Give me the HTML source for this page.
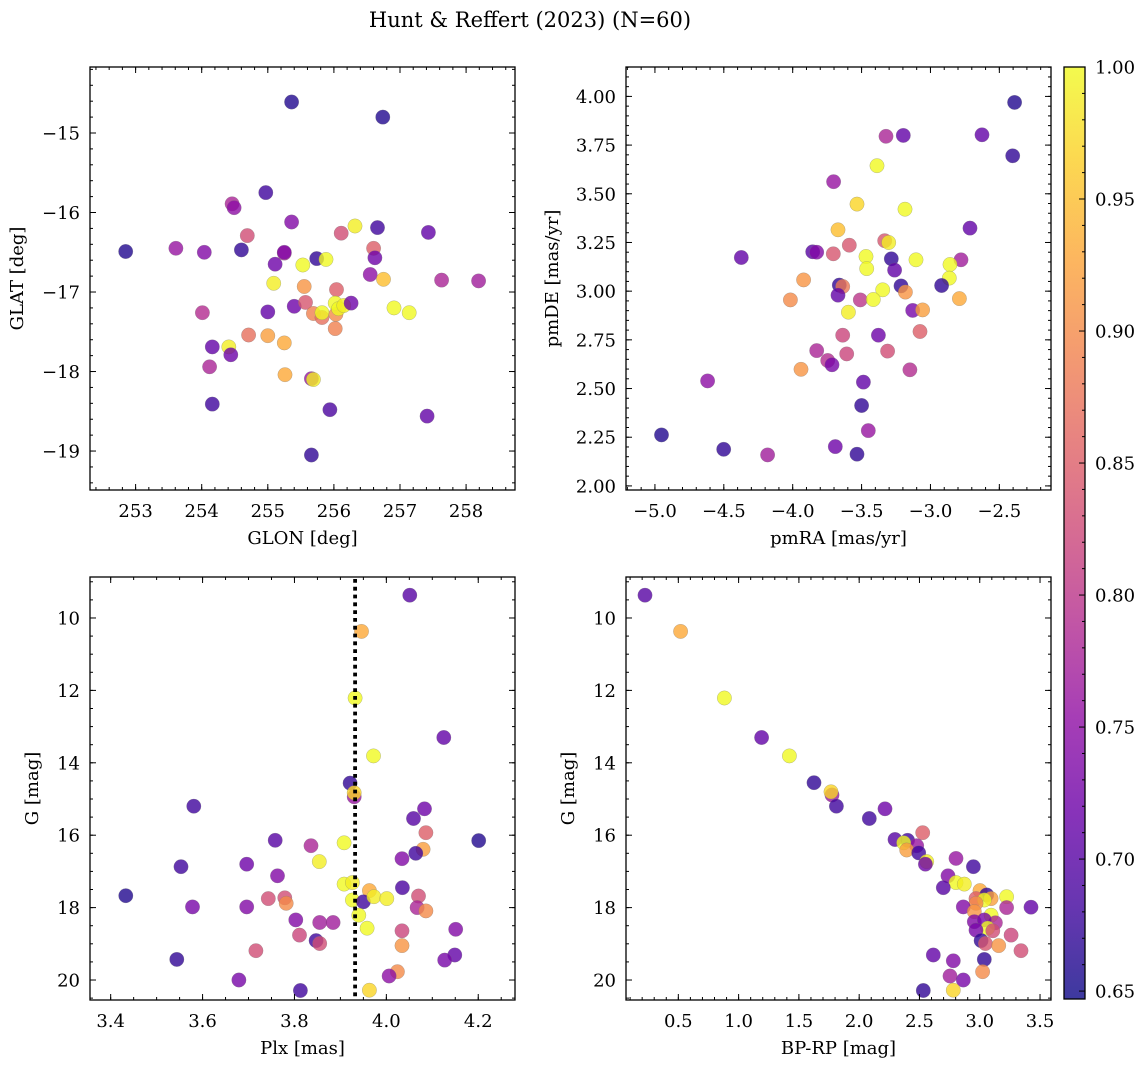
<!DOCTYPE html>
<html><head><meta charset="utf-8"><style>
html,body{margin:0;padding:0;background:#fff;}
svg{display:block;font-family:"DejaVu Serif","Liberation Serif",serif;}
</style></head><body>
<svg id="fig" width="1148" height="1067" viewBox="0 0 1148 1067">
<text x="530" y="27" text-anchor="middle" font-size="21">Hunt &amp; Reffert (2023) (N=60)</text>
</svg>
<script>
// ---- Panel 1 data: GLON / GLAT ----
const glon = [252.85,255.36,256.74,253.61,254.04,254.46,254.49,254.60,254.97,254.69,255.36,255.25,255.25,255.11,255.74,255.53,255.88,256.32,256.66,256.11,256.60,256.62,257.43,256.55,256.75,257.63,258.19,255.09,255.55,256.04,255.40,255.57,255.00,254.01,255.69,255.82,255.82,256.03,256.02,256.07,256.15,256.26,256.02,256.91,257.14,254.71,255.00,255.25,254.16,254.41,254.44,254.12,255.26,255.66,255.69,254.16,255.94,257.41,255.66];
const glat = [-16.49,-14.61,-14.80,-16.45,-16.50,-15.89,-15.94,-16.47,-15.75,-16.29,-16.12,-16.51,-16.50,-16.65,-16.58,-16.66,-16.59,-16.17,-16.19,-16.26,-16.45,-16.57,-16.25,-16.78,-16.84,-16.85,-16.86,-16.89,-16.93,-16.97,-17.18,-17.13,-17.25,-17.26,-17.27,-17.32,-17.26,-17.28,-17.14,-17.21,-17.17,-17.14,-17.46,-17.20,-17.26,-17.54,-17.55,-17.64,-17.69,-17.69,-17.79,-17.94,-18.04,-18.09,-18.10,-18.41,-18.48,-18.56,-19.05];
const prob1 = [0.66,0.66,0.66,0.76,0.74,0.78,0.75,0.67,0.68,0.83,0.74,0.78,0.74,0.72,0.67,1.00,1.00,0.99,0.68,0.83,0.85,0.72,0.71,0.75,0.95,0.78,0.77,0.99,0.91,0.85,0.72,0.84,0.71,0.79,0.89,0.87,1.00,0.90,1.00,1.00,0.99,0.72,0.89,1.00,1.00,0.87,0.92,0.93,0.71,0.99,0.72,0.78,0.93,0.76,0.99,0.68,0.69,0.71,0.67];
// ---- Panel 2 data: pmRA / pmDE ----
const pmra = [-2.389,-3.197,-3.323,-2.626,-2.403,-3.388,-3.703,-3.533,-3.185,-2.713,-3.671,-3.332,-3.303,-3.589,-3.855,-3.826,-3.705,-4.373,-3.468,-3.284,-3.105,-2.778,-3.463,-3.260,-2.858,-2.863,-3.921,-3.662,-3.637,-3.214,-3.182,-2.919,-3.347,-3.671,-4.017,-3.509,-3.415,-2.790,-3.596,-3.129,-3.057,-3.637,-3.378,-3.076,-3.826,-3.608,-3.311,-3.746,-3.715,-3.940,-3.149,-4.618,-3.487,-3.500,-4.952,-3.451,-4.501,-3.691,-4.182,-3.533];
const pmde = [3.969,3.800,3.795,3.803,3.695,3.644,3.562,3.447,3.421,3.324,3.315,3.259,3.250,3.236,3.202,3.200,3.192,3.173,3.178,3.166,3.161,3.161,3.116,3.108,3.137,3.067,3.058,3.031,3.024,3.027,2.995,3.029,3.007,2.979,2.955,2.955,2.957,2.962,2.892,2.901,2.904,2.774,2.774,2.793,2.695,2.678,2.692,2.644,2.622,2.599,2.596,2.539,2.533,2.413,2.262,2.284,2.188,2.202,2.159,2.163];
const prob2 = [0.66,0.71,0.78,0.71,0.67,1.00,0.76,0.97,1.00,0.71,0.95,0.84,0.99,0.84,0.70,0.74,0.84,0.71,1.00,0.67,1.00,0.77,1.00,0.71,1.00,1.00,0.91,0.67,0.88,0.67,0.91,0.67,1.00,0.71,0.90,0.80,1.00,0.93,0.99,0.73,0.92,0.82,0.72,0.85,0.78,0.82,0.83,0.79,0.73,0.91,0.79,0.75,0.71,0.67,0.66,0.76,0.67,0.72,0.77,0.67];
// ---- Panel 3 data: Plx / G ----
const plx = [4.051,3.946,3.932,4.125,3.972,3.921,3.930,3.930,3.581,4.083,4.059,4.086,3.758,4.201,3.836,3.908,4.080,4.064,4.034,3.854,3.553,3.696,3.763,3.908,3.926,4.035,3.963,3.433,3.743,3.779,3.782,3.926,3.950,3.973,4.001,4.070,3.578,3.696,4.067,4.086,3.940,3.803,3.855,3.884,3.958,4.151,4.034,3.811,3.847,3.855,4.034,3.716,4.149,4.127,3.544,4.024,4.006,3.679,3.963,3.813];
const gmag3 = [9.37,10.37,12.21,13.30,13.81,14.56,14.94,14.83,15.20,15.27,15.54,15.93,16.14,16.15,16.29,16.21,16.39,16.50,16.65,16.73,16.87,16.80,17.12,17.35,17.31,17.45,17.53,17.67,17.75,17.73,17.88,17.79,17.84,17.70,17.75,17.68,17.98,17.98,18.00,18.09,18.21,18.34,18.41,18.41,18.57,18.60,18.64,18.76,18.91,18.99,19.05,19.19,19.31,19.45,19.43,19.77,19.89,20.00,20.28,20.29];
const prob3 = [0.70,0.93,1.00,0.71,1.00,0.67,0.76,0.97,0.68,0.72,0.70,0.85,0.70,0.66,0.78,1.00,0.92,0.68,0.74,0.99,0.68,0.72,0.74,1.00,0.99,0.69,0.93,0.66,0.83,0.83,0.90,1.00,0.68,0.99,0.99,0.83,0.73,0.74,0.78,0.90,1.00,0.74,0.77,0.77,1.00,0.74,0.82,0.82,0.68,0.83,0.91,0.83,0.71,0.73,0.67,0.90,0.75,0.73,0.97,0.68];
const plxLine = 3.932;
// ---- Panel 4 data: BP-RP / G ----
const bprp = [0.224,0.519,0.882,1.191,1.421,1.625,1.775,1.766,1.811,2.214,2.084,2.527,2.297,2.402,2.477,2.369,2.394,2.494,2.803,2.560,2.549,2.947,2.737,2.803,2.872,2.698,3.002,3.058,2.969,3.094,3.038,3.223,2.969,2.864,3.223,3.425,2.955,3.094,2.955,3.130,3.038,3.066,2.969,3.108,3.260,3.011,3.047,3.157,3.342,2.615,2.781,3.038,3.024,2.753,2.864,2.781,2.532];
const gmag4 = [9.37,10.37,12.21,13.30,13.81,14.55,14.89,14.80,15.20,15.27,15.54,15.93,16.12,16.14,16.29,16.21,16.41,16.49,16.64,16.73,16.80,16.87,17.12,17.31,17.35,17.45,17.53,17.65,17.75,17.75,17.79,17.70,17.88,17.98,18.00,17.99,18.11,18.21,18.39,18.42,18.34,18.57,18.62,18.64,18.76,18.91,18.99,19.05,19.19,19.31,19.47,19.43,19.77,19.89,20.00,20.28,20.29];
const prob4 = [0.70,0.93,1.00,0.71,1.00,0.67,0.76,0.97,0.68,0.72,0.68,0.85,0.70,0.68,0.76,1.00,0.92,0.68,0.76,0.99,0.72,0.68,0.74,1.00,0.99,0.70,0.93,0.67,0.85,0.92,1.00,1.00,0.90,0.74,0.78,0.71,0.91,1.00,0.74,0.78,0.73,1.00,0.73,0.83,0.82,0.67,0.84,0.91,0.83,0.71,0.74,0.67,0.90,0.77,0.73,0.97,0.67];
// ---- colorbar ----
const cbTicks = [0.65,0.70,0.75,0.80,0.85,0.90,0.95,1.00];
const cbMin = 0.647, cbMax = 1.0;

const NS = "http://www.w3.org/2000/svg";
const svg = document.getElementById('fig');
function mk(tag, attrs, parent){ const e=document.createElementNS(NS,tag); for(const k in attrs) e.setAttribute(k,attrs[k]); (parent||svg).appendChild(e); return e; }

const stops=[[13,8,135],[65,4,157],[106,0,168],[143,13,164],[177,42,144],[204,71,120],[225,100,98],[242,132,75],[252,166,54],[252,206,37],[240,249,33]];
function plasma(t){ t=Math.max(0,Math.min(1,t)); const f=t*10, i=Math.min(9,Math.floor(f)), u=f-i; const a=stops[i],b=stops[i+1]; return 'rgb('+a.map((v,k)=>Math.round(v+(b[k]-v)*u)).join(',')+')'; }
function cmap(v){ return plasma((v-cbMin)/(cbMax-cbMin)); }

function fmt(v,d){ let s=v.toFixed(d); if(v<0) s='\u2212'+s.slice(1); return s; }

function panel(cfg){
  const g=mk('g',{});  
  const {x0,x1,y0,y1}=cfg;
  const sx=v=>x0+(v-cfg.xd[0])/(cfg.xd[1]-cfg.xd[0])*(x1-x0);
  const sy=cfg.inv ? (v=>y0+(v-cfg.yd[0])/(cfg.yd[1]-cfg.yd[0])*(y1-y0)) : (v=>y1-(v-cfg.yd[0])/(cfg.yd[1]-cfg.yd[0])*(y1-y0));
  const pg=mk('g',{},g);  
  for(let i=0;i<cfg.xs.length;i++){
    const c=mk('circle',{cx:sx(cfg.xs[i]).toFixed(1),cy:sy(cfg.ys[i]).toFixed(1),r:7.2,fill:cmap(cfg.cs[i]),'fill-opacity':0.8,stroke:'#777','stroke-opacity':0.5,'stroke-width':0.5},pg);
    
    
  }
  if(cfg.vline!==undefined){
    const l=mk('line',{x1:sx(cfg.vline),x2:sx(cfg.vline),y1:y0+2,y2:y1,stroke:'#000','stroke-width':3.8,'stroke-dasharray':'3.8,4'},g);
    
    
  }
  const tg=mk('g',{stroke:'#000','stroke-width':1},g);
  function ticks(step,len,isX,labelDec){
    const d=isX?cfg.xd:cfg.yd; const lo=Math.min(d[0],d[1]), hi=Math.max(d[0],d[1]);
    for(let k=Math.ceil(lo/step-1e-6);k*step<=hi+1e-9;k++){
      const v=k*step;
      if(isX){ const p=sx(v); mk('line',{x1:p,x2:p,y1:y1,y2:y1-len},tg); mk('line',{x1:p,x2:p,y1:y0,y2:y0+len},tg);
        if(labelDec!==undefined){ const t=mk('text',{x:p,y:y1+27,'text-anchor':'middle','font-size':18,stroke:'none'},g); t.textContent=fmt(v,labelDec);   } }
      else { const p=sy(v); mk('line',{y1:p,y2:p,x1:x0,x2:x0+len},tg); mk('line',{y1:p,y2:p,x1:x1,x2:x1-len},tg);
        if(labelDec!==undefined){ const t=mk('text',{x:x0-10,y:p+6.5,'text-anchor':'end','font-size':18,stroke:'none'},g); t.textContent=fmt(v,labelDec);   } }
    }
  }
  ticks(cfg.xmaj,6,true,cfg.xdec); ticks(cfg.xmin,3,true);
  ticks(cfg.ymaj,6,false,cfg.ydec); ticks(cfg.ymin,3,false);
  mk('rect',{x:x0,y:y0,width:x1-x0,height:y1-y0,fill:'none',stroke:'#000','stroke-width':1.3},g);
  const xl=mk('text',{x:(x0+x1)/2,y:y1+54,'text-anchor':'middle','font-size':18},g); xl.textContent=cfg.xlab;
   
  const yc=(y0+y1)/2;
  const yl=mk('text',{x:cfg.ylx,y:yc,'text-anchor':'middle','font-size':18,transform:'rotate(-90 '+cfg.ylx+' '+yc+')'},g); yl.textContent=cfg.ylab;
   
}

panel({name:'glon-glat-panel',x0:90,x1:515,y0:67,y1:490,xd:[252.31,258.74],yd:[-19.49,-14.17],xs:glon,ys:glat,cs:prob1,xmaj:1,xmin:0.2,ymaj:1,ymin:0.2,xdec:0,ydec:0,xlab:'GLON [deg]',ylab:'GLAT [deg]',ylx:23});
panel({name:'proper-motion-panel',x0:626,x1:1051,y0:67,y1:490,xd:[-5.21,-2.125],yd:[1.979,4.151],xs:pmra,ys:pmde,cs:prob2,xmaj:0.5,xmin:0.1,ymaj:0.25,ymin:0.05,xdec:1,ydec:2,xlab:'pmRA [mas/yr]',ylab:'pmDE [mas/yr]',ylx:558});
panel({name:'plx-g-panel',x0:90,x1:515,y0:577,y1:1000,xd:[3.355,4.280],yd:[8.868,20.552],inv:true,xs:plx,ys:gmag3,cs:prob3,xmaj:0.2,xmin:0.05,ymaj:2,ymin:0.5,xdec:1,ydec:0,xlab:'Plx [mas]',ylab:'G [mag]',ylx:38,vline:plxLine});
panel({name:'cmd-panel',x0:626,x1:1051,y0:577,y1:1000,xd:[0.066,3.591],yd:[8.868,20.552],inv:true,xs:bprp,ys:gmag4,cs:prob4,xmaj:0.5,xmin:0.1,ymaj:2,ymin:0.5,xdec:1,ydec:0,xlab:'BP-RP [mag]',ylab:'G [mag]',ylx:574});

(function(){
  const cx0=1064,cx1=1085,cy0=67,cy1=999;
  const g=mk('g',{});  
  const defs=mk('defs',{},g);
  const lg=mk('linearGradient',{id:'cbg',x1:0,y1:1,x2:0,y2:0},defs);
  for(let i=0;i<=20;i++){ mk('stop',{offset:(i/20),'stop-color':plasma(i/20),'stop-opacity':0.8},lg); }
  mk('rect',{x:cx0,y:cy0,width:cx1-cx0,height:cy1-cy0,fill:'url(#cbg)'},g);
  const sy=v=>cy1-(v-cbMin)/(cbMax-cbMin)*(cy1-cy0);
  for(let k=65;k<=100;k++){ const v=k/100, p=sy(v); const major=(k%5===0);
    mk('line',{x1:cx1,x2:cx1-(major?6:3),y1:p,y2:p,stroke:'#000','stroke-width':1},g); }
  cbTicks.forEach(v=>{ const t=mk('text',{x:1095,y:sy(v)+6.5,'font-size':18},g); t.textContent=v.toFixed(2);
      });
  mk('rect',{x:cx0,y:cy0,width:cx1-cx0,height:cy1-cy0,fill:'none',stroke:'#000','stroke-width':1.3},g);
})();
</script>
</body></html>
